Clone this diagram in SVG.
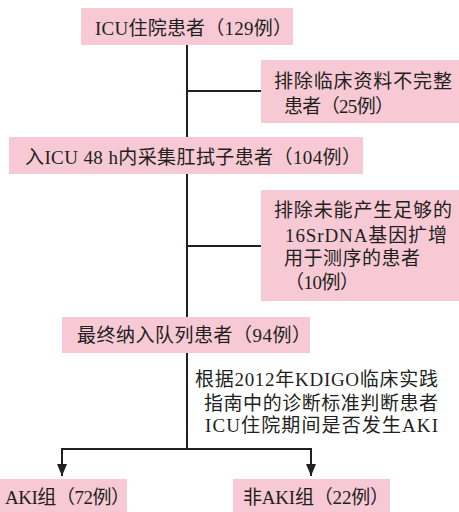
<svg xmlns="http://www.w3.org/2000/svg" width="459" height="512" viewBox="0 0 459 512">
<defs>
<style>
.box{fill:#f6c9d4;}
.t{font-family:"Liberation Serif","Noto Sans CJK SC",serif;font-size:19px;fill:#231f20;}
.ln{stroke:#231f20;stroke-width:2;fill:none;}
</style>
<marker id="ah" viewBox="0 0 12 10" refX="12" refY="5" markerWidth="12" markerHeight="10" markerUnits="userSpaceOnUse" orient="auto">
<path d="M0,0 L12,5 L0,10 Z" fill="#231f20"/>
</marker>
</defs>
<rect width="459" height="512" fill="#ffffff"/>
<g id="connectors">
<line class="ln" x1="187" y1="45" x2="187" y2="137"/>
<line class="ln" x1="187" y1="91" x2="262" y2="91"/>
<line class="ln" x1="187" y1="174" x2="187" y2="317"/>
<line class="ln" x1="187" y1="246" x2="262" y2="246"/>
<line class="ln" x1="187" y1="353" x2="187" y2="449"/>
<polyline class="ln" points="62,449 311,449"/>
<line class="ln" x1="62" y1="448" x2="62" y2="476" marker-end="url(#ah)"/>
<line class="ln" x1="311" y1="448" x2="311" y2="476" marker-end="url(#ah)"/>
</g>
<g id="n1">
<rect class="box" x="81" y="8" width="212" height="37"/>
<text class="t" x="95" y="35" textLength="197" lengthAdjust="spacing">ICU住院患者（129例）</text>
</g>
<g id="n2">
<rect class="box" x="261" y="60" width="198" height="63"/>
<text class="t" x="274" y="88" textLength="178" lengthAdjust="spacing">排除临床资料不完整</text>
<text class="t" x="284" y="113" textLength="110" lengthAdjust="spacing">患者（25例）</text>
</g>
<g id="n3">
<rect class="box" x="9" y="137" width="354" height="37"/>
<text class="t" x="25" y="164" textLength="336" lengthAdjust="spacing">入ICU 48 h内采集肛拭子患者（104例）</text>
</g>
<g id="n4">
<rect class="box" x="261" y="190" width="198" height="111"/>
<text class="t" x="274" y="217" textLength="178" lengthAdjust="spacing">排除未能产生足够的</text>
<text class="t" x="285" y="242" textLength="162" lengthAdjust="spacing">16SrDNA基因扩增</text>
<text class="t" x="284" y="265" textLength="136" lengthAdjust="spacing">用于测序的患者</text>
<text class="t" x="285" y="289" textLength="74" lengthAdjust="spacing">（10例）</text>
</g>
<g id="n5">
<rect class="box" x="62" y="317" width="248" height="36"/>
<text class="t" x="77" y="342" textLength="234" lengthAdjust="spacing">最终纳入队列患者（94例）</text>
</g>
<g id="label">
<text class="t" x="195" y="386" textLength="243" lengthAdjust="spacing">根据2012年KDIGO临床实践</text>
<text class="t" x="204" y="410" textLength="234" lengthAdjust="spacing">指南中的诊断标准判断患者</text>
<text class="t" x="205" y="432" textLength="233" lengthAdjust="spacing">ICU住院期间是否发生AKI</text>
</g>
<g id="n6">
<rect class="box" x="0" y="479" width="127" height="33"/>
<text class="t" x="5" y="504" textLength="125" lengthAdjust="spacing">AKI组（72例）</text>
</g>
<g id="n7">
<rect class="box" x="233" y="479" width="157" height="33"/>
<text class="t" x="243" y="504" textLength="146" lengthAdjust="spacing">非AKI组（22例）</text>
</g>
</svg>
